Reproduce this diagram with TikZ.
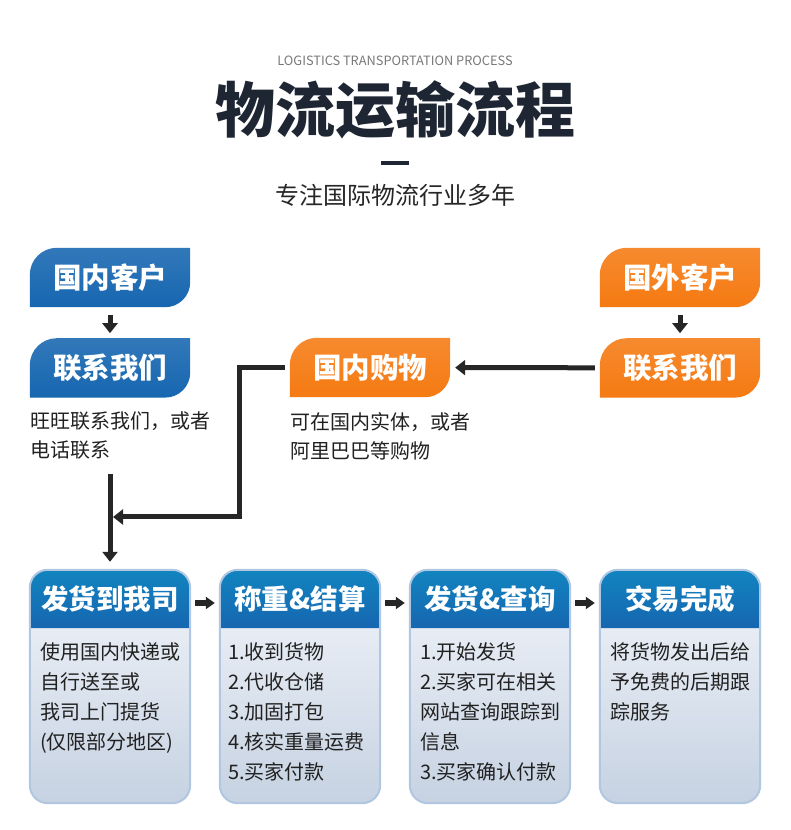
\documentclass[tikz,border=0pt]{standalone}
\usepackage{fontspec}
\setmainfont{Noto Sans CJK SC}
\usepackage{xcolor}
\usetikzlibrary{arrows.meta,positioning,backgrounds,calc}
\definecolor{navytab}{RGB}{22,102,176}
\definecolor{ambertab}{RGB}{245,122,18}
\definecolor{inkdark}{RGB}{30,38,51}
\definecolor{arrowgray}{RGB}{38,38,38}
\definecolor{bodytop}{RGB}{242,245,250}
\definecolor{bodybot}{RGB}{198,210,226}
\definecolor{cardline}{RGB}{176,198,225}
\definecolor{subgray}{RGB}{120,120,120}

\begin{document}
\begin{tikzpicture}[x=1pt,y=1pt,
          tab/.style={minimum width=160pt,minimum height=59pt,inner sep=0pt,
                      text=white,font=\bfseries\fontsize{28.5}{28.5}\selectfont},
          head/.style={minimum width=160pt,minimum height=58pt,inner sep=0pt,
                       text=white,font=\bfseries\fontsize{27.5}{27.5}\selectfont},
          desc/.style={anchor=north west,inner sep=0pt,align=left,text=black!87,
                       font=\fontsize{20}{29}\selectfont},
          body/.style={anchor=north west,inner sep=0pt,align=left,text=black!87,
                       font=\fontsize{20}{30}\selectfont},
          arr/.style={draw=arrowgray,line width=5pt,
                      -{Triangle[length=10pt,width=15pt]}}]
        \useasboundingbox (0,0) rectangle (790,830);
        % title
        \node[text=subgray,font=\fontsize{12.8}{12.8}\selectfont] (en) at (395,769)
          {LOGISTICS TRANSPORTATION PROCESS};
        \node[text=inkdark,font=\bfseries\fontsize{60}{60}\selectfont] (title) at (395,720)
          {物流运输流程};
        \fill[inkdark] (381,665) rectangle (409,669);
        \node[text=black!85,font=\fontsize{24}{24}\selectfont] (sub) at (395,635)
          {专注国际物流行业多年};
        % tabs
        \node[tab] (dk) at (110,552.5) {国内客户};
        \node[tab,below=31pt of dk] (dc) {联系我们};
        \node[tab] (gn) at (370,462.5) {国内购物};
        \node[tab] (fk) at (680,552.5) {国外客户};
        \node[tab,below=31pt of fk] (fc) {联系我们};
        \node[desc] (dcnote) at (30,418) {旺旺联系我们，或者\\电话联系};
        \node[desc] (gnnote) at (290,418) {可在国内实体，或者\\阿里巴巴等购物};
        % cards
        \node[head] (h1) at (110,231) {发货到我司};
        \node[head] (h2) at (300,231) {称重\&结算};
        \node[head] (h3) at (490,231) {发货\&查询};
        \node[head] (h4) at (680,231) {交易完成};
        \node[body] (b1) at (40,188) {使用国内快递或\\自行送至或\\我司上门提货\\(仅限部分地区)};
        \node[body] (b2) at (228,188) {1.收到货物\\2.代收仓储\\3.加固打包\\4.核实重量运费\\5.买家付款};
        \node[body] (b3) at (420,188) {1.开始发货\\2.买家可在相关\\网站查询跟踪到\\信息\\3.买家确认付款};
        \node[body] (b4) at (610,188) {将货物发出后给\\予免费的后期跟\\踪服务};
        \begin{scope}[on background layer]
          \foreach \n/\c in {dk/navytab,dc/navytab,gn/ambertab,fk/ambertab,fc/ambertab}
            \shade[top color=\c!88!white,bottom color=\c]
              (\n.south west) -- ([yshift=-27pt]\n.north west)
              arc[start angle=180,end angle=90,radius=27pt] -- (\n.north east)
              -- ([yshift=25pt]\n.south east)
              arc[start angle=0,end angle=-90,radius=25pt] -- cycle;
          \foreach \i in {1,...,4} {
            \shade[top color=bodytop,bottom color=bodybot,rounded corners=18pt]
              (h\i.north west) rectangle ($(h\i.south east)+(0,-175)$);
            \shade[top color=navytab!80!cyan,bottom color=navytab]
              (h\i.south west) -- ([yshift=-18pt]h\i.north west)
              arc[start angle=180,end angle=90,radius=18pt]
              -- ([xshift=-18pt]h\i.north east)
              arc[start angle=90,end angle=0,radius=18pt] -- (h\i.south east) -- cycle;
            \draw[cardline,line width=2pt,rounded corners=18pt]
              (h\i.north west) rectangle ($(h\i.south east)+(0,-175)$);
          }
        \end{scope}
        % arrows
        \draw[arr,shorten <=8pt,shorten >=5pt] (dk) -- (dc);
        \draw[arr,shorten <=8pt,shorten >=5pt] (fk) -- (fc);
        \draw[arr,shorten <=5pt,shorten >=5pt] (fc) -- (gn);
        \coordinate (join) at (113,313);
        \coordinate (drop) at (110,356);
        \draw[arr,shorten <=5pt] (gn.west) -- ++(-50,0) |- (join);
        \draw[arr,shorten >=8pt] (drop) -- (h1.north);
        \foreach \a/\b in {h1/h2,h2/h3,h3/h4}
          \draw[arr,line width=5.5pt,-{Triangle[length=9pt,width=12pt]},
                shorten <=5pt,shorten >=5pt] ([yshift=-4pt]\a.east) -- ([yshift=-4pt]\b.west);
      \end{tikzpicture}
\end{document}
